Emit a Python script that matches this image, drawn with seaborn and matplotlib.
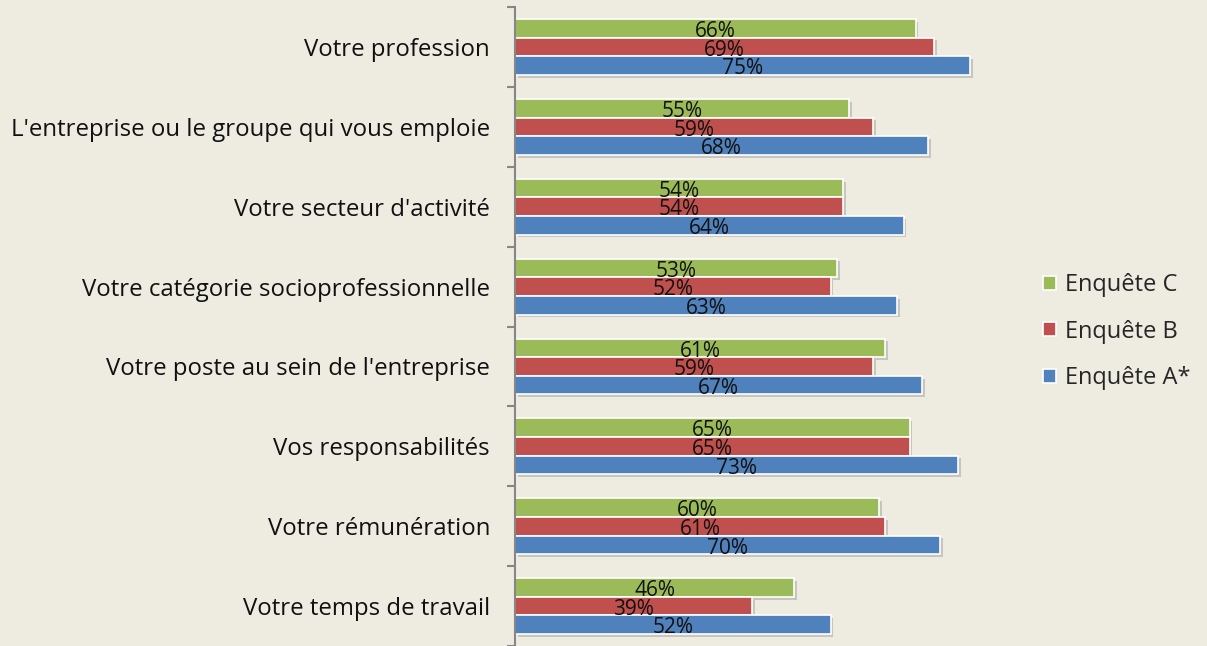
import numpy as np
import pandas as pd
import seaborn as sns
from matplotlib import pyplot as plt
from matplotlib import patheffects as pe

# Data
categories = [
    "Votre profession",
    "L'entreprise ou le groupe qui vous emploie",
    "Votre secteur d'activité",
    "Votre catégorie socioprofessionnelle",
    "Votre poste au sein de l'entreprise",
    "Vos responsabilités",
    "Votre rémunération",
    "Votre temps de travail",
]
enquete_c = [66, 55, 54, 53, 61, 65, 60, 46]
enquete_b = [69, 59, 54, 52, 59, 65, 61, 39]
enquete_a = [75, 68, 64, 63, 67, 73, 70, 52]
series = ["Enquête C", "Enquête B", "Enquête A*"]
colors = ["#9BBB59", "#C0504D", "#4F81BD"]

df = pd.DataFrame({
    "categorie": categories * 3,
    "valeur": enquete_c + enquete_b + enquete_a,
    "enquete": [s for s in series for _ in categories],
})

bg = "#EEEBE0"
sns.set_style("white")
plt.rcParams["font.family"] = ["Open Sans", "DejaVu Sans"]

fig = plt.figure(figsize=(12.07, 6.46), dpi=100, facecolor=bg)
ax = fig.add_axes([0.4267, 0.0, 0.43, 0.989])
ax.set_facecolor(bg)

sns.barplot(
    data=df, y="categorie", x="valeur", hue="enquete",
    order=categories, hue_order=series, palette=colors,
    orient="h", width=0.70, edgecolor="white", linewidth=1.2,
    saturation=1, ax=ax,
)

shadow = [pe.SimplePatchShadow(offset=(2, -2), alpha=0.25, shadow_rgbFace="#555555"), pe.Normal()]
for bar in ax.patches:
    if bar.get_width() <= 0:
        continue
    bar.set_path_effects(shadow)
    ax.text(
        bar.get_width() / 2,
        bar.get_y() + bar.get_height() / 2 + 0.04,
        f"{bar.get_width():.0f}%",
        ha="center", va="center", fontsize=15, color="#111111",
    )

ax.set_xlim(0, 85.5)
ax.set_ylim(len(categories) - 0.5, -0.5)
ax.set_xlabel("")
ax.set_ylabel("")
ax.set_xticks([])

for side in ["top", "right", "bottom"]:
    ax.spines[side].set_visible(False)
ax.spines["left"].set_color("#868686")
ax.spines["left"].set_linewidth(1.5)

ax.set_yticks(np.arange(len(categories)))
ax.set_yticklabels(categories, fontsize=17.3, color="#111111")
ax.set_yticks(np.arange(len(categories) + 1) - 0.5, minor=True)
ax.tick_params(axis="y", which="major", left=True, length=0, pad=18)
ax.tick_params(axis="y", which="minor", left=True, length=6, width=1.5,
               color="#868686", direction="out")

handles, labels = ax.get_legend_handles_labels()
ax.legend(
    handles, labels, loc="center left", bbox_to_anchor=(1.0, 0.492),
    borderaxespad=0, frameon=False, fontsize=17, handlelength=0.55,
    handleheight=0.55, handletextpad=0.35, labelspacing=0.95,
)

fig.savefig("out.png", dpi=100, facecolor=bg)
